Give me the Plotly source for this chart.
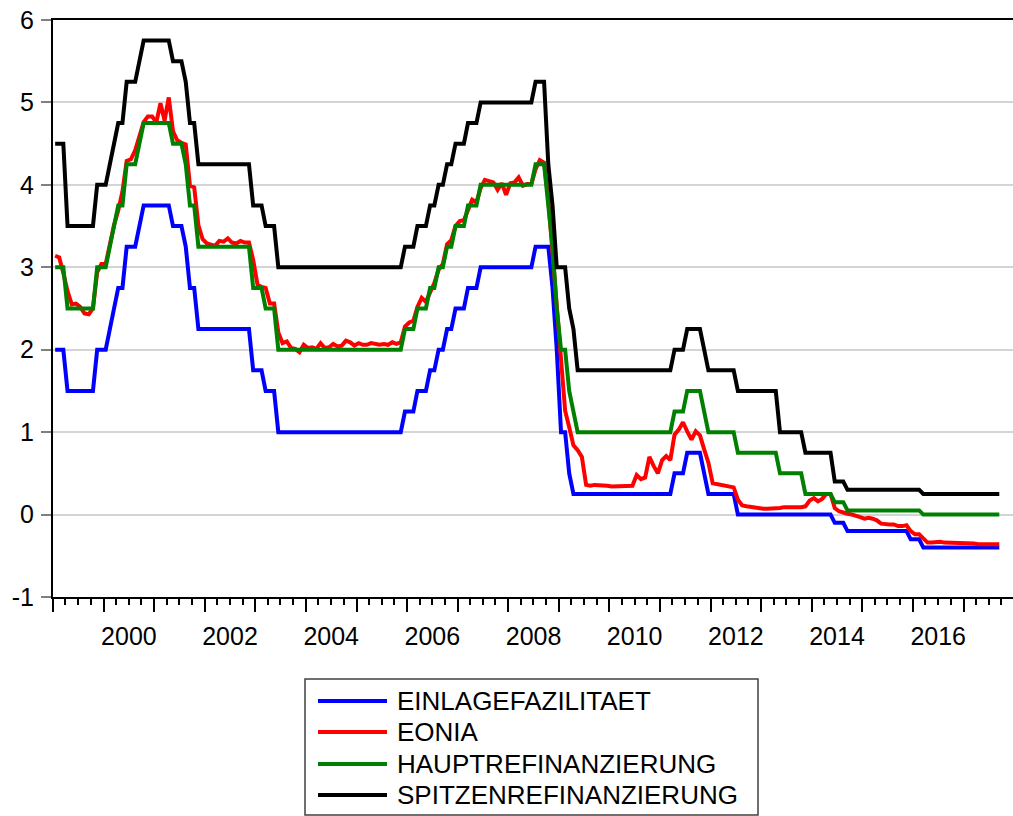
import pandas as pd
import plotly.graph_objects as go

# Monthly observations 1999M01 .. 2017M09
months = pd.date_range("1999-01-01", "2017-09-01", freq="MS")

einlage = [
    2.00, 2.00, 2.00, 1.50, 1.50, 1.50, 1.50, 1.50, 1.50, 1.50, 2.00, 2.00,  # 1999
    2.00, 2.25, 2.50, 2.75, 2.75, 3.25, 3.25, 3.25, 3.50, 3.75, 3.75, 3.75,  # 2000
    3.75, 3.75, 3.75, 3.75, 3.50, 3.50, 3.50, 3.25, 2.75, 2.75, 2.25, 2.25,  # 2001
    2.25, 2.25, 2.25, 2.25, 2.25, 2.25, 2.25, 2.25, 2.25, 2.25, 2.25, 1.75,  # 2002
    1.75, 1.75, 1.50, 1.50, 1.50, 1.00, 1.00, 1.00, 1.00, 1.00, 1.00, 1.00,  # 2003
    1.00, 1.00, 1.00, 1.00, 1.00, 1.00, 1.00, 1.00, 1.00, 1.00, 1.00, 1.00,  # 2004
    1.00, 1.00, 1.00, 1.00, 1.00, 1.00, 1.00, 1.00, 1.00, 1.00, 1.00, 1.25,  # 2005
    1.25, 1.25, 1.50, 1.50, 1.50, 1.75, 1.75, 2.00, 2.00, 2.25, 2.25, 2.50,  # 2006
    2.50, 2.50, 2.75, 2.75, 2.75, 3.00, 3.00, 3.00, 3.00, 3.00, 3.00, 3.00,  # 2007
    3.00, 3.00, 3.00, 3.00, 3.00, 3.00, 3.25, 3.25, 3.25, 3.25, 2.75, 2.00,  # 2008
    1.00, 1.00, 0.50, 0.25, 0.25, 0.25, 0.25, 0.25, 0.25, 0.25, 0.25, 0.25,  # 2009
    0.25, 0.25, 0.25, 0.25, 0.25, 0.25, 0.25, 0.25, 0.25, 0.25, 0.25, 0.25,  # 2010
    0.25, 0.25, 0.25, 0.50, 0.50, 0.50, 0.75, 0.75, 0.75, 0.75, 0.50, 0.25,  # 2011
    0.25, 0.25, 0.25, 0.25, 0.25, 0.25, 0.00, 0.00, 0.00, 0.00, 0.00, 0.00,  # 2012
    0.00, 0.00, 0.00, 0.00, 0.00, 0.00, 0.00, 0.00, 0.00, 0.00, 0.00, 0.00,  # 2013
    0.00, 0.00, 0.00, 0.00, 0.00, -0.10, -0.10, -0.10, -0.20, -0.20, -0.20, -0.20,  # 2014
    -0.20, -0.20, -0.20, -0.20, -0.20, -0.20, -0.20, -0.20, -0.20, -0.20, -0.20, -0.30,  # 2015
    -0.30, -0.30, -0.40, -0.40, -0.40, -0.40, -0.40, -0.40, -0.40, -0.40, -0.40, -0.40,  # 2016
    -0.40, -0.40, -0.40, -0.40, -0.40, -0.40, -0.40, -0.40, -0.40,  # 2017
]

eonia = [
    3.14, 3.12, 2.93, 2.71, 2.55, 2.56, 2.52, 2.44, 2.43, 2.50, 2.94, 3.04,  # 1999
    3.04, 3.28, 3.51, 3.69, 3.92, 4.29, 4.31, 4.42, 4.59, 4.76, 4.83, 4.83,  # 2000
    4.76, 4.99, 4.78, 5.06, 4.65, 4.54, 4.51, 4.49, 3.99, 3.97, 3.51, 3.34,  # 2001
    3.29, 3.28, 3.26, 3.32, 3.31, 3.35, 3.30, 3.29, 3.32, 3.30, 3.30, 3.09,  # 2002
    2.79, 2.76, 2.75, 2.56, 2.56, 2.21, 2.08, 2.10, 2.02, 2.01, 1.97, 2.06,  # 2003
    2.02, 2.03, 2.01, 2.08, 2.02, 2.03, 2.07, 2.04, 2.05, 2.11, 2.09, 2.05,  # 2004
    2.08, 2.06, 2.06, 2.08, 2.07, 2.06, 2.07, 2.06, 2.09, 2.07, 2.09, 2.28,  # 2005
    2.33, 2.35, 2.52, 2.63, 2.58, 2.70, 2.81, 2.97, 3.04, 3.28, 3.33, 3.50,  # 2006
    3.56, 3.57, 3.69, 3.82, 3.79, 3.96, 4.06, 4.05, 4.03, 3.94, 4.02, 3.88,  # 2007
    4.02, 4.03, 4.09, 3.99, 4.01, 4.01, 4.19, 4.30, 4.27, 3.82, 3.15, 2.49,  # 2008
    1.81, 1.26, 1.06, 0.84, 0.78, 0.70, 0.36, 0.35, 0.36, 0.36, 0.36, 0.35,  # 2009
    0.34, 0.34, 0.35, 0.35, 0.34, 0.35, 0.48, 0.43, 0.45, 0.70, 0.59, 0.50,  # 2010
    0.66, 0.71, 0.66, 0.97, 1.03, 1.12, 1.01, 0.91, 1.01, 0.96, 0.79, 0.63,  # 2011
    0.38, 0.37, 0.36, 0.35, 0.34, 0.33, 0.18, 0.11, 0.10, 0.09, 0.08, 0.07,  # 2012
    0.07, 0.07, 0.07, 0.08, 0.08, 0.09, 0.09, 0.08, 0.08, 0.09, 0.10, 0.17,  # 2013
    0.20, 0.16, 0.19, 0.25, 0.25, 0.08, 0.04, 0.02, 0.01, 0.00, -0.01, -0.03,  # 2014
    -0.05, -0.04, -0.05, -0.07, -0.11, -0.12, -0.12, -0.12, -0.14, -0.14, -0.13, -0.20,  # 2015
    -0.24, -0.24, -0.29, -0.34, -0.34, -0.33, -0.33, -0.34, -0.34, -0.35, -0.35, -0.35,  # 2016
    -0.35, -0.35, -0.35, -0.36, -0.36, -0.36, -0.36, -0.36, -0.36,  # 2017
]

haupt = [
    3.00, 3.00, 3.00, 2.50, 2.50, 2.50, 2.50, 2.50, 2.50, 2.50, 3.00, 3.00,  # 1999
    3.00, 3.25, 3.50, 3.75, 3.75, 4.25, 4.25, 4.25, 4.50, 4.75, 4.75, 4.75,  # 2000
    4.75, 4.75, 4.75, 4.75, 4.50, 4.50, 4.50, 4.25, 3.75, 3.75, 3.25, 3.25,  # 2001
    3.25, 3.25, 3.25, 3.25, 3.25, 3.25, 3.25, 3.25, 3.25, 3.25, 3.25, 2.75,  # 2002
    2.75, 2.75, 2.50, 2.50, 2.50, 2.00, 2.00, 2.00, 2.00, 2.00, 2.00, 2.00,  # 2003
    2.00, 2.00, 2.00, 2.00, 2.00, 2.00, 2.00, 2.00, 2.00, 2.00, 2.00, 2.00,  # 2004
    2.00, 2.00, 2.00, 2.00, 2.00, 2.00, 2.00, 2.00, 2.00, 2.00, 2.00, 2.25,  # 2005
    2.25, 2.25, 2.50, 2.50, 2.50, 2.75, 2.75, 3.00, 3.00, 3.25, 3.25, 3.50,  # 2006
    3.50, 3.50, 3.75, 3.75, 3.75, 4.00, 4.00, 4.00, 4.00, 4.00, 4.00, 4.00,  # 2007
    4.00, 4.00, 4.00, 4.00, 4.00, 4.00, 4.25, 4.25, 4.25, 3.75, 3.25, 2.50,  # 2008
    2.00, 2.00, 1.50, 1.25, 1.00, 1.00, 1.00, 1.00, 1.00, 1.00, 1.00, 1.00,  # 2009
    1.00, 1.00, 1.00, 1.00, 1.00, 1.00, 1.00, 1.00, 1.00, 1.00, 1.00, 1.00,  # 2010
    1.00, 1.00, 1.00, 1.25, 1.25, 1.25, 1.50, 1.50, 1.50, 1.50, 1.25, 1.00,  # 2011
    1.00, 1.00, 1.00, 1.00, 1.00, 1.00, 0.75, 0.75, 0.75, 0.75, 0.75, 0.75,  # 2012
    0.75, 0.75, 0.75, 0.75, 0.50, 0.50, 0.50, 0.50, 0.50, 0.50, 0.25, 0.25,  # 2013
    0.25, 0.25, 0.25, 0.25, 0.25, 0.15, 0.15, 0.15, 0.05, 0.05, 0.05, 0.05,  # 2014
    0.05, 0.05, 0.05, 0.05, 0.05, 0.05, 0.05, 0.05, 0.05, 0.05, 0.05, 0.05,  # 2015
    0.05, 0.05, 0.00, 0.00, 0.00, 0.00, 0.00, 0.00, 0.00, 0.00, 0.00, 0.00,  # 2016
    0.00, 0.00, 0.00, 0.00, 0.00, 0.00, 0.00, 0.00, 0.00,  # 2017
]

spitzen = [
    4.50, 4.50, 4.50, 3.50, 3.50, 3.50, 3.50, 3.50, 3.50, 3.50, 4.00, 4.00,  # 1999
    4.00, 4.25, 4.50, 4.75, 4.75, 5.25, 5.25, 5.25, 5.50, 5.75, 5.75, 5.75,  # 2000
    5.75, 5.75, 5.75, 5.75, 5.50, 5.50, 5.50, 5.25, 4.75, 4.75, 4.25, 4.25,  # 2001
    4.25, 4.25, 4.25, 4.25, 4.25, 4.25, 4.25, 4.25, 4.25, 4.25, 4.25, 3.75,  # 2002
    3.75, 3.75, 3.50, 3.50, 3.50, 3.00, 3.00, 3.00, 3.00, 3.00, 3.00, 3.00,  # 2003
    3.00, 3.00, 3.00, 3.00, 3.00, 3.00, 3.00, 3.00, 3.00, 3.00, 3.00, 3.00,  # 2004
    3.00, 3.00, 3.00, 3.00, 3.00, 3.00, 3.00, 3.00, 3.00, 3.00, 3.00, 3.25,  # 2005
    3.25, 3.25, 3.50, 3.50, 3.50, 3.75, 3.75, 4.00, 4.00, 4.25, 4.25, 4.50,  # 2006
    4.50, 4.50, 4.75, 4.75, 4.75, 5.00, 5.00, 5.00, 5.00, 5.00, 5.00, 5.00,  # 2007
    5.00, 5.00, 5.00, 5.00, 5.00, 5.00, 5.25, 5.25, 5.25, 4.25, 3.75, 3.00,  # 2008
    3.00, 3.00, 2.50, 2.25, 1.75, 1.75, 1.75, 1.75, 1.75, 1.75, 1.75, 1.75,  # 2009
    1.75, 1.75, 1.75, 1.75, 1.75, 1.75, 1.75, 1.75, 1.75, 1.75, 1.75, 1.75,  # 2010
    1.75, 1.75, 1.75, 2.00, 2.00, 2.00, 2.25, 2.25, 2.25, 2.25, 2.00, 1.75,  # 2011
    1.75, 1.75, 1.75, 1.75, 1.75, 1.75, 1.50, 1.50, 1.50, 1.50, 1.50, 1.50,  # 2012
    1.50, 1.50, 1.50, 1.50, 1.00, 1.00, 1.00, 1.00, 1.00, 1.00, 0.75, 0.75,  # 2013
    0.75, 0.75, 0.75, 0.75, 0.75, 0.40, 0.40, 0.40, 0.30, 0.30, 0.30, 0.30,  # 2014
    0.30, 0.30, 0.30, 0.30, 0.30, 0.30, 0.30, 0.30, 0.30, 0.30, 0.30, 0.30,  # 2015
    0.30, 0.30, 0.25, 0.25, 0.25, 0.25, 0.25, 0.25, 0.25, 0.25, 0.25, 0.25,  # 2016
    0.25, 0.25, 0.25, 0.25, 0.25, 0.25, 0.25, 0.25, 0.25,  # 2017
]

series_names = ["EINLAGEFAZILITAET", "EONIA", "HAUPTREFINANZIERUNG", "SPITZENREFINANZIERUNG"]
series_values = [einlage, eonia, haupt, spitzen]
series_colors = ["#0000FF", "#FF0000", "#008000", "#000000"]

year_labels = ["2000", "2002", "2004", "2006", "2008", "2010", "2012", "2014", "2016"]
y_ticks = [-1, 0, 1, 2, 3, 4, 5, 6]

FONT = "Liberation Sans, Arial, Helvetica, sans-serif"
W, H = 1013, 816
L, T, R, B = 53, 20, 0, 219
PW, PH = W - L - R, H - T - B

def px_x(px):
    # window pixel -> paper fraction
    return (px - L) / PW

def px_y(py):
    return (H - B - py) / PH

x_range = ["1999-01-01", "2017-12-24"]
year_starts = [f"{y}-01-01" for y in range(1999, 2018)]
label_pos = [f"{y}-07-02" for y in year_labels]

fig = go.Figure()
for name, vals, col in zip(series_names, series_values, series_colors):
    fig.add_trace(go.Scatter(
        x=months, y=vals, name=name, mode="lines",
        xperiod="M1", xperiodalignment="middle",
        line=dict(color=col, width=4),
        showlegend=False,
    ))

# helper (invisible) trace so the label axis is rendered
fig.add_trace(go.Scatter(x=x_range, y=[None, None], xaxis="x2", yaxis="y",
                         mode="lines", showlegend=False, hoverinfo="skip"))

fig.update_layout(
    width=W, height=H,
    margin=dict(l=L, r=R, t=T, b=B, pad=0, autoexpand=False),
    paper_bgcolor="white", plot_bgcolor="white",
    font=dict(family=FONT, color="black", size=25),
    xaxis=dict(
        type="date", range=x_range, automargin=False,
        showline=True, linecolor="black", linewidth=2, mirror=True,
        showgrid=False, zeroline=False,
        tickmode="array", tickvals=year_starts,
        ticks="outside", ticklen=13, tickwidth=1.5, tickcolor="black",
        showticklabels=False,
        minor=dict(dtick="M3", tick0="1999-01-01", ticks="outside",
                   ticklen=6, tickwidth=1.5, tickcolor="black", showgrid=False),
    ),
    xaxis2=dict(
        type="date", range=x_range, overlaying="x", anchor="y", side="bottom",
        automargin=False,
        showline=False, showgrid=False, zeroline=False,
        tickmode="array", tickvals=label_pos, ticktext=year_labels,
        ticks="outside", ticklen=17, tickcolor="rgba(0,0,0,0)",
        ticklabeloverflow="allow",
        tickfont=dict(size=25, family=FONT, color="black"),
    ),
    yaxis=dict(
        range=[-1, 6], automargin=False,
        showline=True, linecolor="black", linewidth=2,
        showgrid=True, gridcolor="#D4D4D4", gridwidth=1.5, zeroline=False,
        tickmode="array", tickvals=y_ticks, ticktext=[str(v) for v in y_ticks],
        ticks="outside", ticklen=10, tickwidth=1.5, tickcolor="#808080",
        ticklabelstandoff=2, ticklabeloverflow="allow",
        tickfont=dict(size=25, family=FONT, color="black"),
    ),
)

# Legend box drawn below the plot area
shapes = [dict(type="rect", xref="paper", yref="paper",
               x0=px_x(305), x1=px_x(758), y0=px_y(815), y1=px_y(679),
               line=dict(color="#404040", width=1.5), fillcolor="white", layer="above")]
annotations = []
row_y = [701, 732, 764, 795]
for name, col, ry in zip(series_names, series_colors, row_y):
    shapes.append(dict(type="line", xref="paper", yref="paper",
                       x0=px_x(318), x1=px_x(387), y0=px_y(ry), y1=px_y(ry),
                       line=dict(color=col, width=4), layer="above"))
    annotations.append(dict(xref="paper", yref="paper", x=px_x(395), y=px_y(ry),
                            xanchor="left", yanchor="middle", showarrow=False,
                            text=name, font=dict(size=26, family=FONT, color="black")))
fig.update_layout(shapes=shapes, annotations=annotations)

# remove the default 8px page margin so the figure fills the window exactly
fig.write_html("out.html", config={"displayModeBar": False},
               post_script="document.body.style.margin='0px';")
